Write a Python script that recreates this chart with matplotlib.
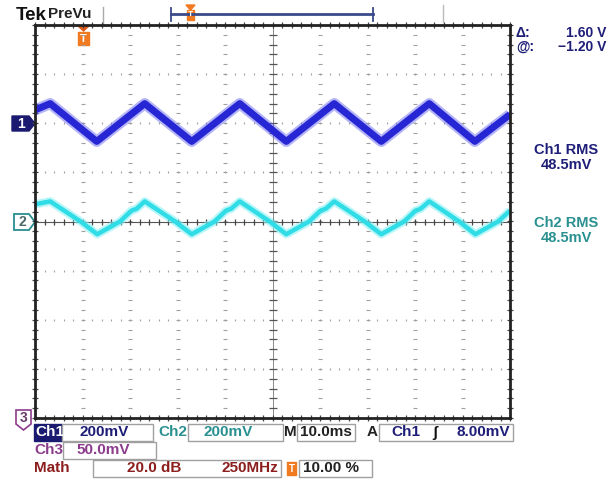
"""
Tek PreVu screen capture: two triangle-like traces on a 10x8 division graticule.
"""
import numpy as np
import matplotlib.pyplot as plt
from matplotlib.patches import Rectangle, Polygon

# trace data in screen divisions (time div, vertical div)
ch1_t = [0, 0.32, 1.30, 2.31, 3.30, 4.31, 5.29, 6.30, 7.29, 8.30, 9.26, 10]
ch1_v = [2.27, 2.40, 1.63, 2.40, 1.63, 2.40, 1.63, 2.40, 1.63, 2.40, 1.63, 2.18]

ch2_t = [0, 0.32, 0.96, 1.31, 1.79, 2.03, 2.14, 2.31, 2.95, 3.30, 3.78, 4.02, 4.13,
         4.31, 4.94, 5.29, 5.77, 6.01, 6.12, 6.30, 6.94, 7.29, 7.77, 8.01, 8.12,
         8.30, 8.93, 9.27, 9.75, 10]
ch2_v = [0.35, 0.41, 0.0, -0.26, 0.0, 0.22, 0.26, 0.41, 0.0, -0.26, 0.0, 0.22, 0.26,
         0.41, 0.0, -0.26, 0.0, 0.22, 0.26, 0.41, 0.0, -0.26, 0.0, 0.22, 0.26,
         0.41, 0.0, -0.26, 0.0, 0.22]

cursor_labels = ["\u0394:", "@:"]
cursor_values = ["1.60 V", "\u22121.20 V"]
ch1_rms = "48.5mV"
ch2_rms = "48.5mV"

W, H = 609, 480
NAVY = "#1e1e78"
TEAL = "#2a9090"
PURPLE = "#8c3c8c"
DRED = "#8c1e1e"
ORANGE = "#f07a20"
FONT = "Liberation Sans"

fig = plt.figure(figsize=(W / 100, H / 100), dpi=100)
fig.patch.set_facecolor("white")

# overlay in pixel coordinates for labels and boxes
ov = fig.add_axes([0, 0, 1, 1])
ov.set_xlim(0, W)
ov.set_ylim(H, 0)
ov.axis("off")

# graticule axes
L, R, T, B = 35, 510, 25, 418
ax = fig.add_axes([L / W, 1 - B / H, (R - L) / W, (B - T) / H])
ax.set_xlim(0, 10)
ax.set_ylim(-4, 4)
ax.set_xticks([])
ax.set_yticks([])
for s in ax.spines.values():
    s.set_linewidth(2)
    s.set_color("#222222")
ax.patch.set_alpha(0)

gc = "#a0a0a0"
minor_x = np.arange(0, 10.01, 0.2)
minor_y = np.arange(-4, 4.01, 0.2)
for gy in [-3, -2, -1, 1, 2, 3]:
    ax.plot(minor_x, np.full_like(minor_x, gy), ls="none", marker="|", ms=2, mew=0.8, color=gc)
for gx in [1, 2, 3, 4, 6, 7, 8, 9]:
    ax.plot(np.full_like(minor_y, gx), minor_y, ls="none", marker="_", ms=2.5, mew=0.8, color=gc)
# centre lines with ticks
ax.axhline(0, color="#555555", lw=0.8)
ax.axvline(5, color="#888888", lw=0.7)
ax.plot(minor_x, np.zeros_like(minor_x), ls="none", marker="|", ms=5, mew=0.9, color="#444444")
ax.plot(np.full_like(minor_y, 5), minor_y, ls="none", marker="_", ms=6, mew=0.9, color="#555555")
# border ticks
ax.plot(minor_x, np.full_like(minor_x, 4), ls="none", marker="|", ms=5, mew=0.9, color="#444444", clip_on=False)
ax.plot(minor_x, np.full_like(minor_x, -4), ls="none", marker="|", ms=5, mew=0.9, color="#444444", clip_on=False)
ax.plot(np.zeros_like(minor_y), minor_y, ls="none", marker="_", ms=5, mew=0.9, color="#444444", clip_on=False)
ax.plot(np.full_like(minor_y, 10), minor_y, ls="none", marker="_", ms=5, mew=0.9, color="#444444", clip_on=False)

# traces
ax.plot(ch1_t, ch1_v, color="#5a5aee", lw=8, alpha=0.45, solid_capstyle="butt")
ax.plot(ch1_t, ch1_v, color="#2626d4", lw=5, solid_capstyle="butt")
ax.plot(ch2_t, ch2_v, color="#8af0f4", lw=6, alpha=0.6, solid_capstyle="butt")
ax.plot(ch2_t, ch2_v, color="#30dce6", lw=3.2, solid_capstyle="butt")

# header
ov.text(16, 15, "Tek", fontsize=13.5, fontweight="bold", family=FONT, va="center", ha="left", color="#111111")
ov.text(48, 14, "PreVu", fontsize=11, fontweight="bold", family=FONT, va="center", ha="left", color="#222222")
ov.plot([103, 103], [7, 24], color="#aaaaaa", lw=1)
ov.plot([171, 373], [14, 14], color="#3a4a8a", lw=2)
ov.plot([171, 171], [8, 21], color="#3a4a8a", lw=1.3)
ov.plot([373, 373], [8, 21], color="#3a4a8a", lw=1.3)
ov.plot([443, 443], [5, 22], color="#bbbbbb", lw=1)
ov.add_patch(Rectangle((187, 10), 7, 10, color=ORANGE))
ov.text(190.5, 15, "T", fontsize=6, fontweight="bold", color="white", ha="center", va="center", family=FONT)
ov.add_patch(Polygon([[186, 5], [195, 5], [190.5, 10]], color=ORANGE))

# trigger position marker
ov.add_patch(Polygon([[78, 26], [89, 26], [83.5, 31]], color="#e05a1a", zorder=5))
ov.add_patch(Rectangle((78, 32), 11, 13, color=ORANGE, zorder=5))
ov.text(83.5, 38.5, "T", fontsize=8, fontweight="bold", color="white", ha="center", va="center", family=FONT, zorder=6)

# cursor readout
for i in range(2):
    yy = 33 + 14 * i
    ov.text(516, yy, cursor_labels[i], fontsize=10, fontweight="bold", family=FONT, color=NAVY, va="center")
    ov.text(606, yy, cursor_values[i], fontsize=10, fontweight="bold", family=FONT, color=NAVY, va="center", ha="right")

ov.text(566, 150, "Ch1 RMS", fontsize=10.5, fontweight="bold", family=FONT, color=NAVY, ha="center", va="center")
ov.text(566, 165, ch1_rms, fontsize=10.5, fontweight="bold", family=FONT, color=NAVY, ha="center", va="center")
ov.text(566, 223, "Ch2 RMS", fontsize=10.5, fontweight="bold", family=FONT, color=TEAL, ha="center", va="center")
ov.text(566, 238, ch2_rms, fontsize=10.5, fontweight="bold", family=FONT, color=TEAL, ha="center", va="center")

# channel markers
ov.add_patch(Polygon([[12, 116], [29, 116], [35, 123.5], [29, 131], [12, 131]], color="#1a1a70", zorder=5))
ov.text(21, 124, "1", fontsize=10, fontweight="bold", color="white", ha="center", va="center", family=FONT, zorder=6)
ov.add_patch(Polygon([[14, 214], [29, 214], [35, 222], [29, 230], [14, 230]], facecolor="white",
                     edgecolor=TEAL, lw=1.3, zorder=5))
ov.text(22, 222.5, "2", fontsize=10, fontweight="bold", color="#4a6a6a", ha="center", va="center", family=FONT, zorder=6)
ov.add_patch(Polygon([[16, 410], [31, 410], [31, 424], [23.5, 430], [16, 424]], facecolor="white",
                     edgecolor=PURPLE, lw=1.2, zorder=5))
ov.text(23.5, 418, "3", fontsize=10, fontweight="bold", color="#6a3a6a", ha="center", va="center", family=FONT, zorder=6)


def box(x0, x1, y0, y1):
    ov.add_patch(Rectangle((x0, y0), x1 - x0, y1 - y0, facecolor="white", edgecolor="#a0a0a0", lw=1))


def label(x, y, s, c, ha="left", size=11):
    ov.text(x, y, s, fontsize=size, fontweight="bold", family=FONT, color=c, ha=ha, va="center")


# status row 1
r1 = (424, 441)
ov.add_patch(Rectangle((34, r1[0]), 28, r1[1] - r1[0], color="#1a1a70"))
label(35, 432.5, "Ch1", "white")
box(62, 153, *r1)
label(80, 432.5, "200mV", NAVY)
label(158, 432.5, "Ch2", TEAL)
box(188, 283, *r1)
label(204, 432.5, "200mV", TEAL)
label(284, 432.5, "M", "#222222")
box(297, 355, *r1)
label(300, 432.5, "10.0ms", "#222222")
label(367, 432.5, "A", "#222222")
box(379, 513, *r1)
label(391, 432.5, "Ch1", NAVY)
label(432, 432.5, "\u0283", "#111111", size=11)
label(510, 432.5, "8.00mV", NAVY, ha="right")

# status row 2
r2 = (442, 459)
label(34, 450.5, "Ch3", PURPLE)
box(63, 156, *r2)
label(76, 450.5, "50.0mV", PURPLE)

# status row 3
r3 = (460, 477)
label(34, 468.5, "Math", DRED)
box(93, 281, *r3)
label(181, 468.5, "20.0 dB", DRED, ha="right")
label(278, 468.5, "250MHz", DRED, ha="right")
ov.add_patch(Rectangle((287, 462), 9, 13, color=ORANGE))
ov.text(291.5, 468.5, "T", fontsize=7, fontweight="bold", color="white", ha="center", va="center", family=FONT)
box(299, 372, *r3)
label(303, 468.5, "10.00 %", "#222222")

fig.savefig("out.png", dpi=100, facecolor="white")
